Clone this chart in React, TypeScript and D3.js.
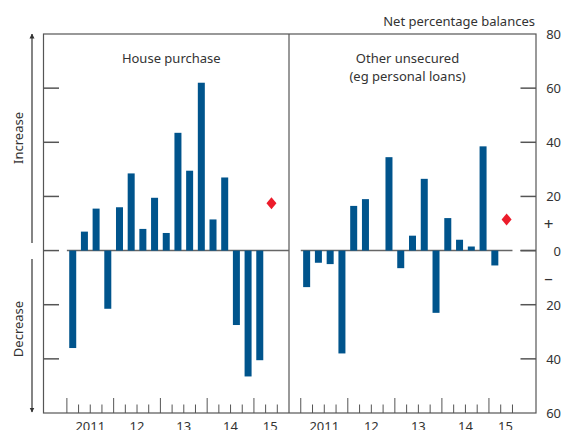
import React from 'react';
import * as d3 from 'd3';

// quarterly net balances, 2011 Q1 – 2015 Q1
const quarters = [
  '2011 Q1', '2011 Q2', '2011 Q3', '2011 Q4',
  '2012 Q1', '2012 Q2', '2012 Q3', '2012 Q4',
  '2013 Q1', '2013 Q2', '2013 Q3', '2013 Q4',
  '2014 Q1', '2014 Q2', '2014 Q3', '2014 Q4',
  '2015 Q1',
];
const housePurchase = [-36, 7, 15.5, -21.5, 16, 28.5, 8, 19.5, 6.5, 43.5, 29.5, 62, 11.5, 27, -27.5, -46.5, -40.5];
const otherUnsecured = [-13.5, -4.5, -5, -38, 16.5, 19, 0, 34.5, -6.5, 5.5, 26.5, -23, 12, 4, 1.5, 38.5, -5.5];
// expectations for 2015 Q2 (diamonds)
const expectations = [17.5, 11.5];
const yearLabels = ['2011', '12', '13', '14', '15'];
const yTicks = [80, 60, 40, 20, 0, -20, -40, -60];

const W = 563;
const H = 430;
const BAR = '#00548c';
const RED = '#ec1c2b';
const AXIS = '#555';
const TEXT = '#333';
const FONT = '"Noto Sans", sans-serif';

const left = 43.5;
const mid = 289;
const right = 536;
const top = 34;
const bottom = 413;

const y = d3.scaleLinear().domain([-60, 80]).range([bottom, top]);

// quarter index 0 = start of 2011 Q1
const xLeft = d3.scaleLinear().domain([-2, 19]).range([left, mid]);
const xRight = d3.scaleLinear().domain([-1, 20]).range([mid, right]);

const nTickQ = 18; // quarter boundaries 0..18 (to end of 2015 Q2)

const Panel: React.FC<{ x: d3.ScaleLinear<number, number>; values: number[]; expect: number; zeroEnd: number }> = ({ x, values, expect, zeroEnd }) => {
  const bw = 7;
  const ex = x(quarters.length + 0.5);
  return (
    <g>
      <line x1={x(0)} x2={zeroEnd} y1={y(0)} y2={y(0)} stroke="#666" strokeWidth={1.5} />
      {values.map((v, i) => (
        <rect key={quarters[i]} x={x(i + 0.5) - bw / 2} width={bw}
          y={Math.min(y(v), y(0))} height={Math.abs(y(v) - y(0))} fill={BAR} />
      ))}
      <path d={`M${ex},${y(expect) - 6}L${ex + 5},${y(expect)}L${ex},${y(expect) + 6}L${ex - 5},${y(expect)}Z`} fill={RED} />
      {d3.range(nTickQ + 1).map(q => (
        <line key={q} x1={x(q)} x2={x(q)} y1={bottom} y2={bottom - (q % 4 === 0 ? 15 : 8.5)} stroke={AXIS} strokeWidth={1} />
      ))}
      {yearLabels.map((lab, i) => (
        <text key={lab} x={x(i * 4 + (i === yearLabels.length - 1 ? 1.4 : 2))} y={431} textAnchor="middle"
          fontSize={13} fill={TEXT} fontFamily={FONT}>{lab}</text>
      ))}
    </g>
  );
};

const App: React.FC = () => {
  const arrowX = 32;
  return (
    <svg width={W} height={H} viewBox={`0 0 ${W} ${H}`}
      style={{ position: 'absolute', left: 0, top: 0, background: '#fff' }}>
      <defs>
        <marker id="ah" viewBox="0 0 10 10" refX={9} refY={5} markerWidth={5} markerHeight={8} orient="auto" markerUnits="userSpaceOnUse">
          <path d="M0,0L10,5L0,10Z" fill="#333" />
        </marker>
      </defs>

      {/* frame */}
      <rect x={left} y={top} width={right - left} height={bottom - top} fill="none" stroke={AXIS} strokeWidth={1.2} />
      <line x1={mid} x2={mid} y1={top} y2={bottom} stroke={AXIS} strokeWidth={1.2} />

      {/* y ticks */}
      {yTicks.filter(t => t !== 80 && t !== -60).map(t => (
        <g key={t}>
          <line x1={left} x2={left + 15.5} y1={y(t)} y2={y(t)} stroke={AXIS} strokeWidth={1.5} />
          <line x1={right - 15.5} x2={right} y1={y(t)} y2={y(t)} stroke={AXIS} strokeWidth={1.5} />
        </g>
      ))}
      {yTicks.map(t => (
        <text key={t} x={561} y={y(t) + 5} textAnchor="end" fontSize={13} fill={TEXT} fontFamily={FONT}>{Math.abs(t)}</text>
      ))}
      <text x={548.5} y={y(10) + 6} textAnchor="middle" fontSize={17} fill={TEXT} fontFamily={FONT}>+</text>
      <text x={548.5} y={y(-10) + 6} textAnchor="middle" fontSize={17} fill={TEXT} fontFamily={FONT}>–</text>

      <text x={535} y={26} textAnchor="end" fontSize={13} fill={TEXT} fontFamily={FONT}>Net percentage balances</text>

      <Panel x={xLeft} values={housePurchase} expect={expectations[0]} zeroEnd={mid} />
      <Panel x={xRight} values={otherUnsecured} expect={expectations[1]} zeroEnd={xRight(nTickQ)} />
      <line x1={right - 15.5} x2={right} y1={y(0)} y2={y(0)} stroke={AXIS} strokeWidth={1.5} />

      <text x={(left + mid) / 2 + 5} y={63} textAnchor="middle" fontSize={13} fill={TEXT} fontFamily={FONT}>House purchase</text>
      <text x={(mid + right) / 2 - 5} y={63} textAnchor="middle" fontSize={13} fill={TEXT} fontFamily={FONT}>
        <tspan x={(mid + right) / 2 - 5}>Other unsecured</tspan>
        <tspan x={(mid + right) / 2 - 5} dy={18}>(eg personal loans)</tspan>
      </text>

      {/* increase / decrease arrows */}
      <line x1={arrowX} x2={arrowX} y1={243} y2={34} stroke="#333" strokeWidth={1.2} markerEnd="url(#ah)" />
      <line x1={arrowX} x2={arrowX} y1={259} y2={412} stroke="#333" strokeWidth={1.2} markerEnd="url(#ah)" />
      <text transform={`translate(23,138) rotate(-90)`} textAnchor="middle" fontSize={13} fill={TEXT} fontFamily={FONT}>Increase</text>
      <text transform={`translate(23,329) rotate(-90)`} textAnchor="middle" fontSize={13} fill={TEXT} fontFamily={FONT}>Decrease</text>
    </svg>
  );
};

export default App;
